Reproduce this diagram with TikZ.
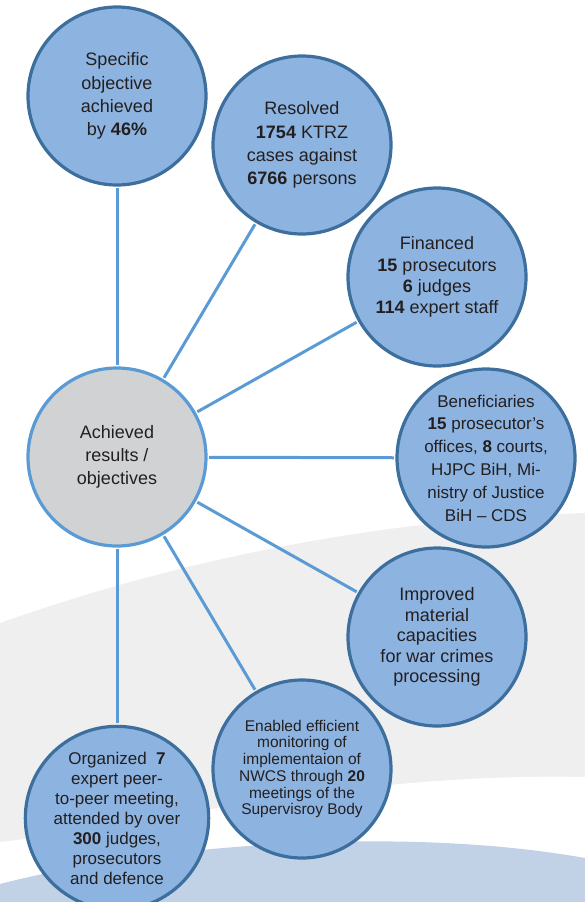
\documentclass[tikz,border=0pt]{standalone}
\usepackage{fontspec}
\setmainfont{Liberation Sans}

\definecolor{bubblefill}{RGB}{141,180,225}
\definecolor{bubbleedge}{RGB}{60,110,158}
\definecolor{spokeblue}{RGB}{91,155,213}
\definecolor{hubgrey}{RGB}{209,210,212}
\definecolor{ink}{RGB}{35,31,32}
\definecolor{bandgrey}{RGB}{239,239,239}
\definecolor{bandblue}{RGB}{193,210,231}

\tikzset{
  bubble/.style={circle, draw=bubbleedge, fill=bubblefill, line width=3.2bp,
    minimum size=178bp, inner sep=0pt, align=center, text=ink},
  hub/.style={bubble, draw=spokeblue, fill=hubgrey},
  spoke/.style={draw=spokeblue, line width=3bp, shorten <=1.6bp, shorten >=1.6bp},
  big/.style={font=\fontsize{18bp}{23.3bp}\selectfont},
}

\begin{document}
\begin{tikzpicture}[x=1bp, y=-1bp]
      \useasboundingbox (0,0) rectangle (585,902);

      % background bands
      \fill[bandgrey] (0,623) .. controls (150,570) and (350,520) .. (585,513)
        -- (585,902) -- (0,902) -- cycle;
      \fill[white] (0,842) .. controls (150,825) and (350,772) .. (585,777)
        -- (585,902) -- (0,902) -- cycle;
      \fill[bandblue] (0,884) .. controls (150,845) and (400,825) .. (585,858)
        -- (585,902) -- (0,902) -- cycle;

      \node[hub, big] (ach) at (117,457) {Achieved\\results /\\objectives};

      \node[bubble, big] (spec) at (117,96) {Specific\\objective\\achieved\\by \textbf{46\%}};
      \node[bubble, big] (res) at (302,145) {Resolved\\\textbf{1754} KTRZ\\cases against\\\textbf{6766} persons};
      \node[bubble, font=\fontsize{18bp}{21.3bp}\selectfont] (fin) at (437,277)
        {Financed\\\textbf{15} prosecutors\\\textbf{6} judges\\\textbf{114} expert staff};
      \node[bubble, font=\fontsize{17bp}{22.8bp}\selectfont] (ben) at (486,458)
        {Beneficiaries\\\textbf{15} prosecutor’s\\offices, \textbf{8} courts,\\HJPC BiH, Mi-\\nistry of Justice\\BiH -- CDS};
      \node[bubble, font=\fontsize{18bp}{20.6bp}\selectfont] (imp) at (437,637)
        {Improved\\material\\capacities\\for war crimes\\processing};
      \node[bubble, font=\fontsize{15.5bp}{16.7bp}\selectfont] (mon) at (302,769)
        {Enabled efficient\\monitoring of\\implementaion of\\NWCS through \textbf{20}\\meetings of the\\Supervisroy Body};
      \node[bubble, font=\fontsize{17bp}{20bp}\selectfont] (org) at (117,818)
        {Organized \ \textbf{7}\\expert peer-\\to-peer meeting,\\attended by over\\\textbf{300} judges,\\prosecutors\\and defence};

      \foreach \n in {spec, res, fin, ben, imp, mon, org} {
        \draw[spoke] (ach) -- (\n);
      }
    \end{tikzpicture}
\end{document}
